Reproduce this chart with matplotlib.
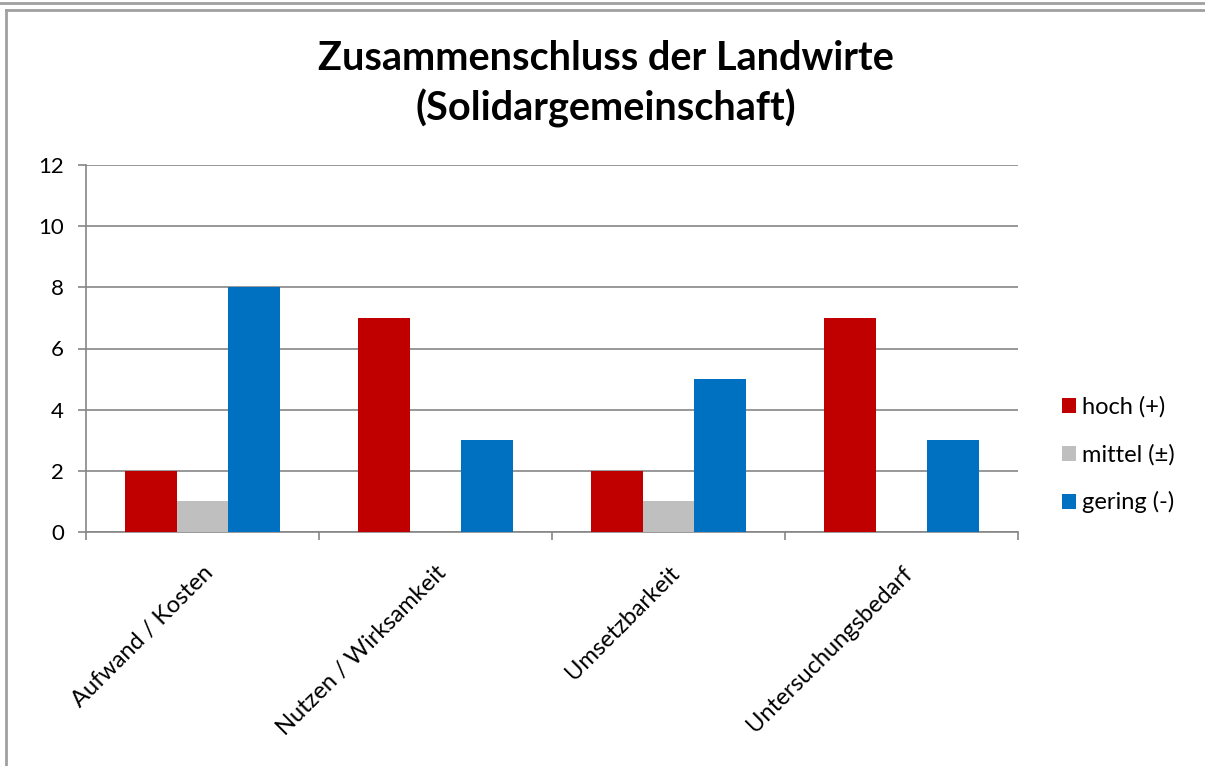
import numpy as np
import matplotlib
matplotlib.use("Agg")
from matplotlib import pyplot as plt
from matplotlib.lines import Line2D

categories = ["Aufwand / Kosten", "Nutzen / Wirksamkeit", "Umsetzbarkeit", "Untersuchungsbedarf"]
hoch = [2, 7, 2, 7]
mittel = [1, 0, 1, 0]
gering = [8, 3, 5, 3]
series_labels = ["hoch (+)", "mittel (\u00b1)", "gering (-)"]
colors = ["#C00000", "#BFBFBF", "#0070C0"]

plt.rcParams["font.family"] = ["Lato", "DejaVu Sans"]

fig = plt.figure(figsize=(12.05, 7.66), dpi=100)
W, H = 1205, 766

# outer frames (Excel-like chart border)
fig.add_artist(Line2D([0, 1], [1 - 3 / H, 1 - 3 / H], color="#A0A0A0", lw=2))
fig.add_artist(Line2D([6 / W, 1], [1 - 10 / H, 1 - 10 / H], color="#A0A0A0", lw=2))
fig.add_artist(Line2D([6 / W, 6 / W], [0, 1 - 10 / H], color="#A0A0A0", lw=2))

ax = fig.add_axes([86 / W, 1 - 532 / H, (1018 - 86) / W, (532 - 165) / H])

x = np.arange(len(categories))
bw = 0.223
for i, (vals, lab, c) in enumerate(zip([hoch, mittel, gering], series_labels, colors)):
    ax.bar(x + (i - 1) * bw, vals, bw, color=c, label=lab, zorder=3)

ax.set_xlim(-0.5, len(categories) - 0.5)
ax.set_ylim(0, 12)
ax.set_yticks(range(0, 13, 2))
ax.yaxis.grid(True, color="#868686", lw=1.2, zorder=0)
ax.tick_params(axis="y", labelsize=16, length=6, color="#868686", width=1.2, pad=10)

ax.set_xticks(np.arange(-0.5, len(categories), 1))
ax.set_xticklabels([])
ax.tick_params(axis="x", length=6, color="#868686", width=1.2)
ax.set_xticks(x, minor=True)
ax.set_xticklabels(categories, minor=True, rotation=45, ha="right", rotation_mode="anchor", fontsize=17)
ax.tick_params(axis="x", which="minor", length=0, pad=22)
for t in ax.get_xticklabels(minor=True):
    t.set_x(t.get_position()[0] + 0.02)

for s in ["top", "right"]:
    ax.spines[s].set_visible(False)
for s in ["left", "bottom"]:
    ax.spines[s].set_color("#868686")
    ax.spines[s].set_linewidth(1.2)

fig.text(606 / W, 1 - 84 / H, "Zusammenschluss der Landwirte\n(Solidargemeinschaft)",
         ha="center", va="center", fontsize=28.5, fontweight="bold", linespacing=1.4)

leg = ax.legend(loc="center left", bbox_to_anchor=(1.047, 0.21), frameon=False, fontsize=17,
                handlelength=0.6, handleheight=0.6, handletextpad=0.25, labelspacing=1.1,
                borderpad=0, borderaxespad=0)

fig.savefig("out.png", dpi=100)
